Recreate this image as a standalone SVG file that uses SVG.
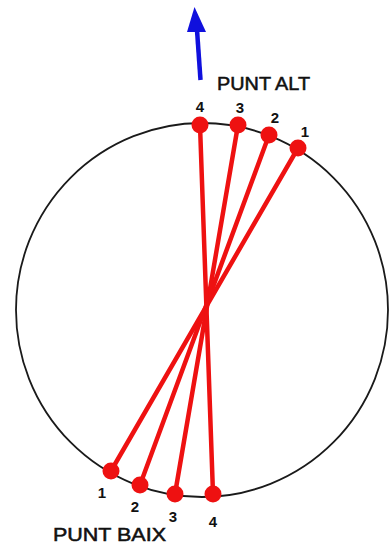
<svg xmlns="http://www.w3.org/2000/svg" width="389" height="544" viewBox="0 0 389 544">
<style>
.lbl{font-family:"Liberation Sans","DejaVu Sans",sans-serif;font-weight:bold;font-size:15px;fill:#111;text-anchor:middle}
.title{font-family:"Liberation Sans","DejaVu Sans",sans-serif;font-size:17.5px;fill:#111;stroke:#111;stroke-width:0.5}
.rod{stroke:#ee1111;stroke-width:4.5;stroke-linecap:round;fill:none}
.dot{fill:#ee1111}
</style>
<rect width="389" height="544" fill="#ffffff"/>
<g id="circle">
<ellipse cx="202" cy="310" rx="186" ry="187" fill="none" stroke="#1a1a1a" stroke-width="1.8"/>
</g>
<g id="arrow">
<line x1="200.5" y1="80" x2="197" y2="30" stroke="#1010dd" stroke-width="4.5"/>
<polygon points="194.5,7 187,32 206,32" fill="#1010dd"/>
</g>
<g id="connectors">
<line class="rod" x1="298" y1="148" x2="111" y2="471"/>
<line class="rod" x1="269" y1="135" x2="140" y2="485"/>
<line class="rod" x1="238" y1="125" x2="175" y2="494"/>
<line class="rod" x1="200" y1="125" x2="213" y2="494"/>
</g>
<g id="top-points">
<circle class="dot" cx="200" cy="125" r="8.5"/>
<circle class="dot" cx="238" cy="125" r="8.5"/>
<circle class="dot" cx="269" cy="135" r="8.5"/>
<circle class="dot" cx="298" cy="148" r="8.5"/>
<text class="lbl" x="200" y="112">4</text>
<text class="lbl" x="240" y="113">3</text>
<text class="lbl" x="275" y="123">2</text>
<text class="lbl" x="305" y="137">1</text>
</g>
<g id="bottom-points">
<circle class="dot" cx="111" cy="471" r="8.5"/>
<circle class="dot" cx="140" cy="485" r="8.5"/>
<circle class="dot" cx="175" cy="494" r="8.5"/>
<circle class="dot" cx="213" cy="494" r="8.5"/>
<text class="lbl" x="102" y="498">1</text>
<text class="lbl" x="135" y="512">2</text>
<text class="lbl" x="173" y="522">3</text>
<text class="lbl" x="213" y="527">4</text>
</g>
<g id="punt-alt">
<text class="title" x="217" y="90" textLength="93" lengthAdjust="spacingAndGlyphs">PUNT ALT</text>
</g>
<g id="punt-baix">
<text class="title" x="53" y="541" textLength="113" lengthAdjust="spacingAndGlyphs">PUNT BAIX</text>
</g>
</svg>
